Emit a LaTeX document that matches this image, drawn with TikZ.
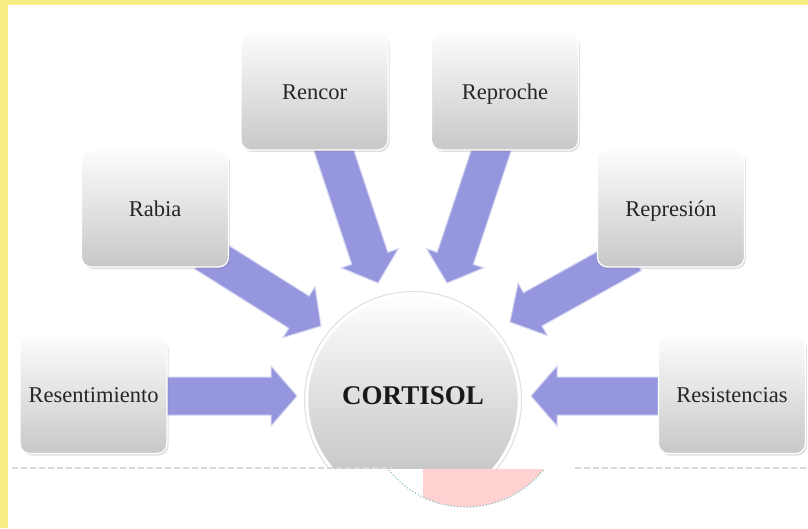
\documentclass[tikz,border=0pt]{standalone}
\usepackage{fontspec}
\setmainfont{Liberation Serif}
\usetikzlibrary{calc,shadows}
\definecolor{arrowc}{RGB}{150,150,222}
\definecolor{arrowedge}{RGB}{212,212,242}
\definecolor{yel}{RGB}{246,236,130}
\definecolor{boxtop}{RGB}{252,252,252}
\definecolor{boxmid}{RGB}{238,238,238}
\definecolor{boxbot}{RGB}{200,200,200}
\tikzset{
  box/.style={rounded corners=10pt, minimum width=147pt, minimum height=117pt,
    top color=boxtop, middle color=boxmid, bottom color=boxbot, draw=white, line width=1.2pt,
    drop shadow={opacity=0.25, shadow xshift=1.5pt, shadow yshift=-2pt},
    font=\fontsize{22.5}{26}\selectfont, text=black!85, inner sep=0pt,
    text height=18pt, text depth=3pt},
  barrow/.style={fill=arrowc, draw=arrowedge, line width=1pt, line join=miter},
  glitch/.style={line width=1.6pt, dash pattern=on 6pt off 3pt}
}
\newcommand{\blockarrow}[2]{%
  \coordinate (hb) at ($(#2)!26pt!(#1)$);
  \filldraw[barrow] ($(#1)!19pt!90:(#2)$) -- ($(hb)!19pt!-90:(#1)$)
    -- ($(hb)!30pt!-90:(#1)$) -- (#2) -- ($(hb)!30pt!90:(#1)$)
    -- ($(hb)!19pt!90:(#1)$) -- ($(#1)!19pt!-90:(#2)$) -- cycle;}
\begin{document}
\begin{tikzpicture}[x=1pt, y=-1pt]
\useasboundingbox (0,0) rectangle (808,528);
\fill[white] (0,0) rectangle (808,528);
\fill[yel] (0,0) rectangle (808,5);
\fill[yel] (0,0) rectangle (8,528);

% central circle
\begin{scope}
  \clip (0,0) rectangle (808,468);
  \shade[top color=white, bottom color=black!26] (413,400) circle (107);
  \draw[gray!25, line width=1pt] (413,400) circle (108.5);
  \draw[white, line width=2.5pt] (413,400) circle (106);
\end{scope}
\node[font=\bfseries\fontsize{27}{31}\selectfont, text=black!90] (cortisol) at (413,396) {CORTISOL};

% glitch remnants at the bottom
\begin{scope}
  \clip (423,469) rectangle (808,528);
  \fill[red!18] (466,408) circle (99);
\end{scope}
\begin{scope}
  \clip (0,469) rectangle (808,528);
  \draw[teal!45, dotted, line width=1.2pt] (466,408) circle (99);
\end{scope}
\draw[glitch, gray!30] (12,468) -- (392,468);
\draw[glitch, gray!30] (575,468) -- (808,468);

% arrow end points
\coordinate (s1) at (150,396);  \coordinate (t1) at (297,396);
\coordinate (s2) at (675,396);  \coordinate (t2) at (531,396);
\coordinate (s3) at (205,253);  \coordinate (t3) at (321,326);
\coordinate (s4) at (327,130);  \coordinate (t4) at (378,283);
\coordinate (s5) at (498,130);  \coordinate (t5) at (447,283);
\coordinate (s6) at (632,254);  \coordinate (t6) at (510,322);
\blockarrow{s1}{t1}
\blockarrow{s2}{t2}
\blockarrow{s3}{t3}
\blockarrow{s4}{t4}
\blockarrow{s5}{t5}
\blockarrow{s6}{t6}

% boxes
\node[box] (rencor) at (314.5,91.5) {Rencor};
\node[box] (reproche) at (505,91.5) {Reproche};
\node[box] (rabia) at (155,208.5) {Rabia};
\node[box] (represion) at (671,208.5) {Represión};
\node[box] (resent) at (93.5,395) {Resentimiento};
\node[box] (resist) at (732,395) {Resistencias};
\end{tikzpicture}
\end{document}
